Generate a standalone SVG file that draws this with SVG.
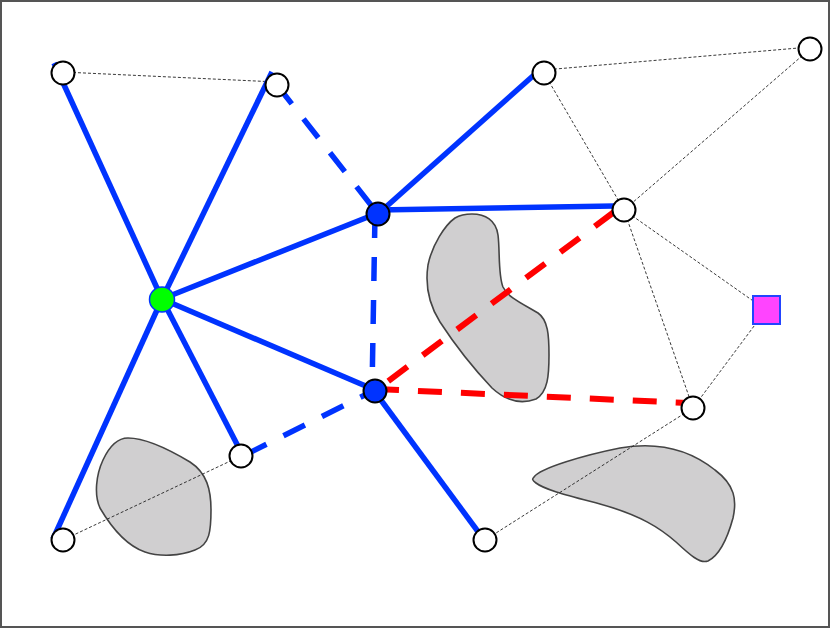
<svg xmlns="http://www.w3.org/2000/svg" width="830" height="628" viewBox="0 0 830 628">
<style>
.blob{fill:#d0cfd0;stroke:#444;stroke-width:1.6}
.bs{stroke:#0033ff;stroke-width:5.5;fill:none}
.bd{stroke:#0033ff;stroke-width:5.5;fill:none;stroke-dasharray:24,19}
.rd{stroke:#ff0000;stroke-width:6;fill:none;stroke-dasharray:24,19}
.td{stroke:#222;stroke-width:0.9;fill:none;stroke-dasharray:3,2}
.wn{fill:#fff;stroke:#000;stroke-width:2}
.bn{fill:#0033ff;stroke:#000;stroke-width:2}
</style>
<rect x="1" y="1" width="828" height="626" fill="#fff" stroke="#555" stroke-width="2"/>
<g id="obstacles">
<path class="blob" d="M 472,214 C 485,214 496,220 498,235 C 500,250 498,275 503,287 C 508,298 525,305 538,313 C 548,320 549,335 549,355 C 549,375 548,392 536,399 C 520,405 505,400 492,388 C 475,370 455,345 440,322 C 428,303 425,285 428,265 C 432,245 445,225 455,218 C 460,215 466,214 472,214 Z"/>
<path class="blob" d="M 534,477 C 540,468 585,455 620,448 C 660,441 690,450 715,470 C 735,485 737,500 733,518 C 727,540 718,556 708,561 C 700,564 690,555 676,542 C 660,528 640,515 600,504 C 570,496 545,490 536,483 C 532,480 532,479 534,477 Z"/>
<path class="blob" d="M 128,438 C 145,438 170,450 190,462 C 207,473 211,490 211,510 C 211,530 210,545 195,550 C 180,556 160,557 145,552 C 125,545 110,525 100,508 C 94,495 96,475 103,460 C 110,445 118,438 128,438 Z"/>
</g>
<g id="connectors">
<line class="td" x1="63" y1="72" x2="277" y2="82"/>
<line class="td" x1="544" y1="70" x2="810" y2="47"/>
<line class="td" x1="544" y1="73" x2="624" y2="210"/>
<line class="td" x1="810" y1="49" x2="624" y2="210"/>
<line class="td" x1="624" y1="210" x2="766" y2="310"/>
<line class="td" x1="624" y1="210" x2="693" y2="408"/>
<line class="td" x1="766" y1="310" x2="693" y2="408"/>
<line class="td" x1="693" y1="408" x2="485" y2="540"/>
<line class="td" x1="241" y1="456" x2="63" y2="540"/>
<line class="bs" x1="162" y1="299" x2="54" y2="63"/>
<line class="bs" x1="162" y1="299" x2="272" y2="72"/>
<line class="bs" x1="162" y1="299" x2="378" y2="213"/>
<line class="bs" x1="162" y1="299" x2="53" y2="539"/>
<line class="bs" x1="162" y1="299" x2="375" y2="390"/>
<line class="bs" x1="162" y1="299" x2="241" y2="452"/>
<line class="bs" x1="378" y1="214" x2="543" y2="67"/>
<line class="bs" x1="378" y1="210" x2="614" y2="206"/>
<line class="bs" x1="375" y1="392" x2="482" y2="537"/>
<line class="bd" x1="277" y1="85" x2="378" y2="214"/>
<line class="bd" x1="375" y1="214" x2="372" y2="392"/>
<line class="bd" x1="245" y1="455" x2="375" y2="390"/>
<line class="rd" x1="614" y1="212" x2="375" y2="391"/>
<line class="rd" x1="375" y1="389" x2="688" y2="403"/>
</g>
<g id="node-A"><circle class="wn" cx="63" cy="73" r="11.5"/></g>
<g id="node-B"><circle class="wn" cx="277" cy="85" r="11.5"/></g>
<g id="node-D"><circle class="wn" cx="544" cy="73" r="11.5"/></g>
<g id="node-E"><circle class="wn" cx="810" cy="49" r="11.5"/></g>
<g id="node-F"><circle class="wn" cx="624" cy="210" r="11.5"/></g>
<g id="node-I"><circle class="wn" cx="241" cy="456" r="11.5"/></g>
<g id="node-J"><circle class="wn" cx="63" cy="540" r="11.5"/></g>
<g id="node-K"><circle class="wn" cx="485" cy="540" r="11.5"/></g>
<g id="node-L"><circle class="wn" cx="693" cy="408" r="11.5"/></g>
<g id="node-C"><circle class="bn" cx="378" cy="214" r="11.5"/></g>
<g id="node-H"><circle class="bn" cx="375" cy="391" r="11.5"/></g>
<g id="node-G"><circle cx="162" cy="299.5" r="12.5" fill="#00ff00" stroke="#0033ff" stroke-width="1.5"/></g>
<g id="node-P"><rect x="753" y="296" width="27" height="28" fill="#ff44ff" stroke="#2244ff" stroke-width="2"/></g>
</svg>
